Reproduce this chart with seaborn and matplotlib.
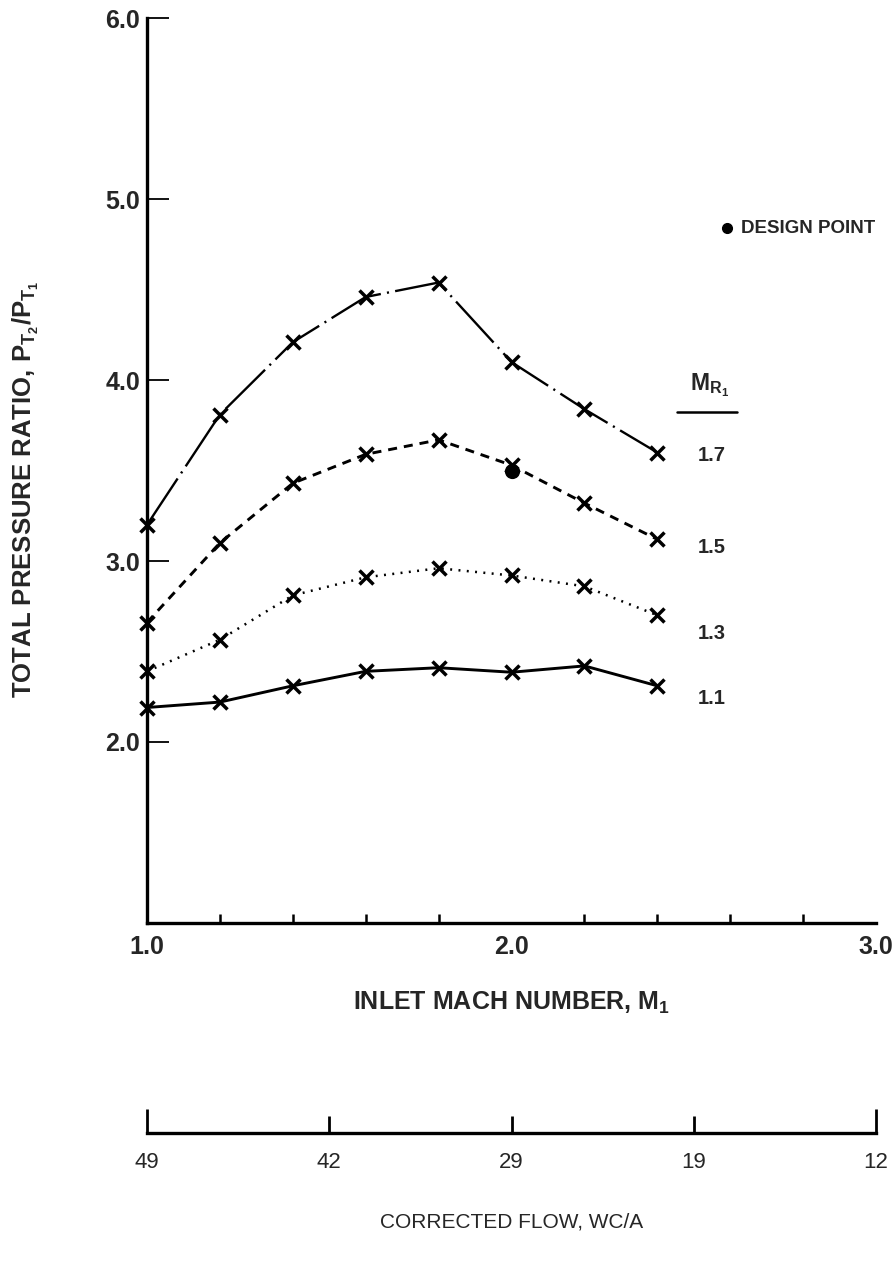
import matplotlib
matplotlib.use("Agg")
import matplotlib.pyplot as plt
from matplotlib.lines import Line2D
import pandas as pd
import seaborn as sns

# ---------------- data ----------------
mach = [1.0, 1.2, 1.4, 1.6, 1.8, 2.0, 2.2, 2.4]
pr_mr17 = [3.20, 3.81, 4.21, 4.46, 4.54, 4.10, 3.84, 3.60]
pr_mr15 = [2.66, 3.10, 3.43, 3.59, 3.67, 3.53, 3.32, 3.12]
pr_mr13 = [2.39, 2.565, 2.81, 2.91, 2.96, 2.92, 2.86, 2.70]
pr_mr11 = [2.19, 2.22, 2.31, 2.39, 2.41, 2.385, 2.42, 2.31]
series_names = ["1.7", "1.5", "1.3", "1.1"]

design_mach = [2.0]
design_pr = [3.50]

x_ticks = [1.0, 2.0, 3.0]
x_minor = [1.2, 1.4, 1.6, 1.8, 2.2, 2.4, 2.6, 2.8]
y_ticks = [2.0, 3.0, 4.0, 5.0, 6.0]
flow_pos_end = [1.0, 3.0]
flow_lab_end = ["49", "12"]
flow_pos_mid = [1.5, 2.0, 2.5]
flow_lab_mid = ["42", "29", "19"]

# ---------------- style ----------------
sns.set_theme(style="white")
plt.rcParams["font.family"] = ["Liberation Sans", "DejaVu Sans"]
plt.rcParams["mathtext.default"] = "regular"
plt.rcParams["lines.scale_dashes"] = False

W, H = 893, 1266
fig = plt.figure(figsize=(W / 100, H / 100), dpi=100)
fig.patch.set_facecolor("white")


def px_box(l, t, r, b):
    return [l / W, 1 - b / H, (r - l) / W, (b - t) / H]


ax = fig.add_axes(px_box(147, 18.5, 876, 922.7))
ax.set_facecolor("white")

styles = {
    "1.7": dict(linestyle=(0, (40, 4.5, 1.5, 4.5)), linewidth=1.7),
    "1.5": dict(linestyle=(0, (6.5, 5.0)), linewidth=2.1),
    "1.3": dict(linestyle=(0, (1.4, 4.6)), linewidth=1.8),
    "1.1": dict(linestyle="-", linewidth=2.1),
}
series = [pr_mr17, pr_mr15, pr_mr13, pr_mr11]
for name, vals in zip(series_names, series):
    df = pd.DataFrame({"mach": mach, "pr": vals})
    sns.lineplot(data=df, x="mach", y="pr", ax=ax, color="black",
                 marker="x", markersize=9.5, markeredgewidth=2.5,
                 markeredgecolor="black", clip_on=False, **styles[name])

sns.scatterplot(x=design_mach, y=design_pr, ax=ax, s=120, color="black",
                edgecolor="black", linewidth=0, zorder=5)

ax.set_xlim(1.0, 3.0)
ax.set_ylim(1.0, 6.0)
ax.set_xlabel("")
ax.set_ylabel("")
for s in ["top", "right"]:
    ax.spines[s].set_visible(False)
for s in ["left", "bottom"]:
    ax.spines[s].set_linewidth(2.4)
    ax.spines[s].set_color("black")

ax.set_xticks(x_ticks, [f"{v:.1f}" for v in x_ticks])
ax.set_xticks(x_minor, minor=True)
ax.set_yticks(y_ticks, [f"{v:.1f}" for v in y_ticks])
ax.tick_params(axis="x", which="major", direction="in", length=12, width=1.8,
               pad=9, labelsize=18, color="black")
ax.tick_params(axis="x", which="minor", direction="in", length=6.5, width=1.8,
               bottom=True, color="black")
ax.tick_params(axis="y", which="major", direction="in", length=16, width=1.3,
               pad=5, labelsize=18, color="black", left=True)
for lab in ax.get_xticklabels() + ax.get_yticklabels():
    lab.set_fontweight("bold")

# right-hand curve labels
mr_label_y = [3.585, 3.077, 2.60, 2.24]
for name, yv in zip(series_names, mr_label_y):
    ax.text(2.55, yv, name, fontsize=14.5, fontweight="bold", ha="center",
            va="center")
ax.text(0.772, 0.594, r"M$_{R_1}$", transform=ax.transAxes, fontsize=16.5,
        fontweight="bold", ha="center", va="center")
ax.add_line(Line2D([0.727, 0.81], [0.5645, 0.5645], transform=ax.transAxes,
                   color="black", linewidth=1.8, clip_on=False))

# design point legend
ax.plot([0.796], [0.768], "o", color="black", markersize=7,
        transform=ax.transAxes, clip_on=False)
ax.text(0.815, 0.768, "DESIGN POINT", transform=ax.transAxes, fontsize=13.5,
        fontweight="bold", ha="left", va="center")

# axis titles
fig.text(512 / W, 1 - 1003 / H, "INLET MACH NUMBER, M$_1$", fontsize=18,
         fontweight="bold", ha="center", va="center")
fig.text(26 / W, 1 - 698 / H, "TOTAL PRESSURE RATIO, P$_{T_2}$/P$_{T_1}$",
         fontsize=18.5, fontweight="bold", rotation=90, ha="center",
         va="bottom")

# secondary corrected-flow scale
ax2 = fig.add_axes(px_box(147, 1100, 876, 1133))
ax2.set_facecolor("none")
ax2.set_xlim(1.0, 3.0)
ax2.set_ylim(0, 1)
for s in ["top", "right", "left"]:
    ax2.spines[s].set_visible(False)
ax2.spines["bottom"].set_linewidth(2.4)
ax2.spines["bottom"].set_color("black")
ax2.set_yticks([])
ax2.set_xticks(flow_pos_end, flow_lab_end)
ax2.set_xticks(flow_pos_mid, flow_lab_mid, minor=True)
ax2.tick_params(axis="x", which="major", direction="in", length=17, width=2.0,
                pad=14, labelsize=16, color="black", bottom=True)
ax2.tick_params(axis="x", which="minor", direction="in", length=12, width=2.0,
                pad=14, labelsize=16, color="black", bottom=True)
fig.text(512 / W, 1 - 1222 / H, "CORRECTED FLOW, WC/A", fontsize=15,
         ha="center", va="center")

fig.savefig("out.png", dpi=100, facecolor="white")
